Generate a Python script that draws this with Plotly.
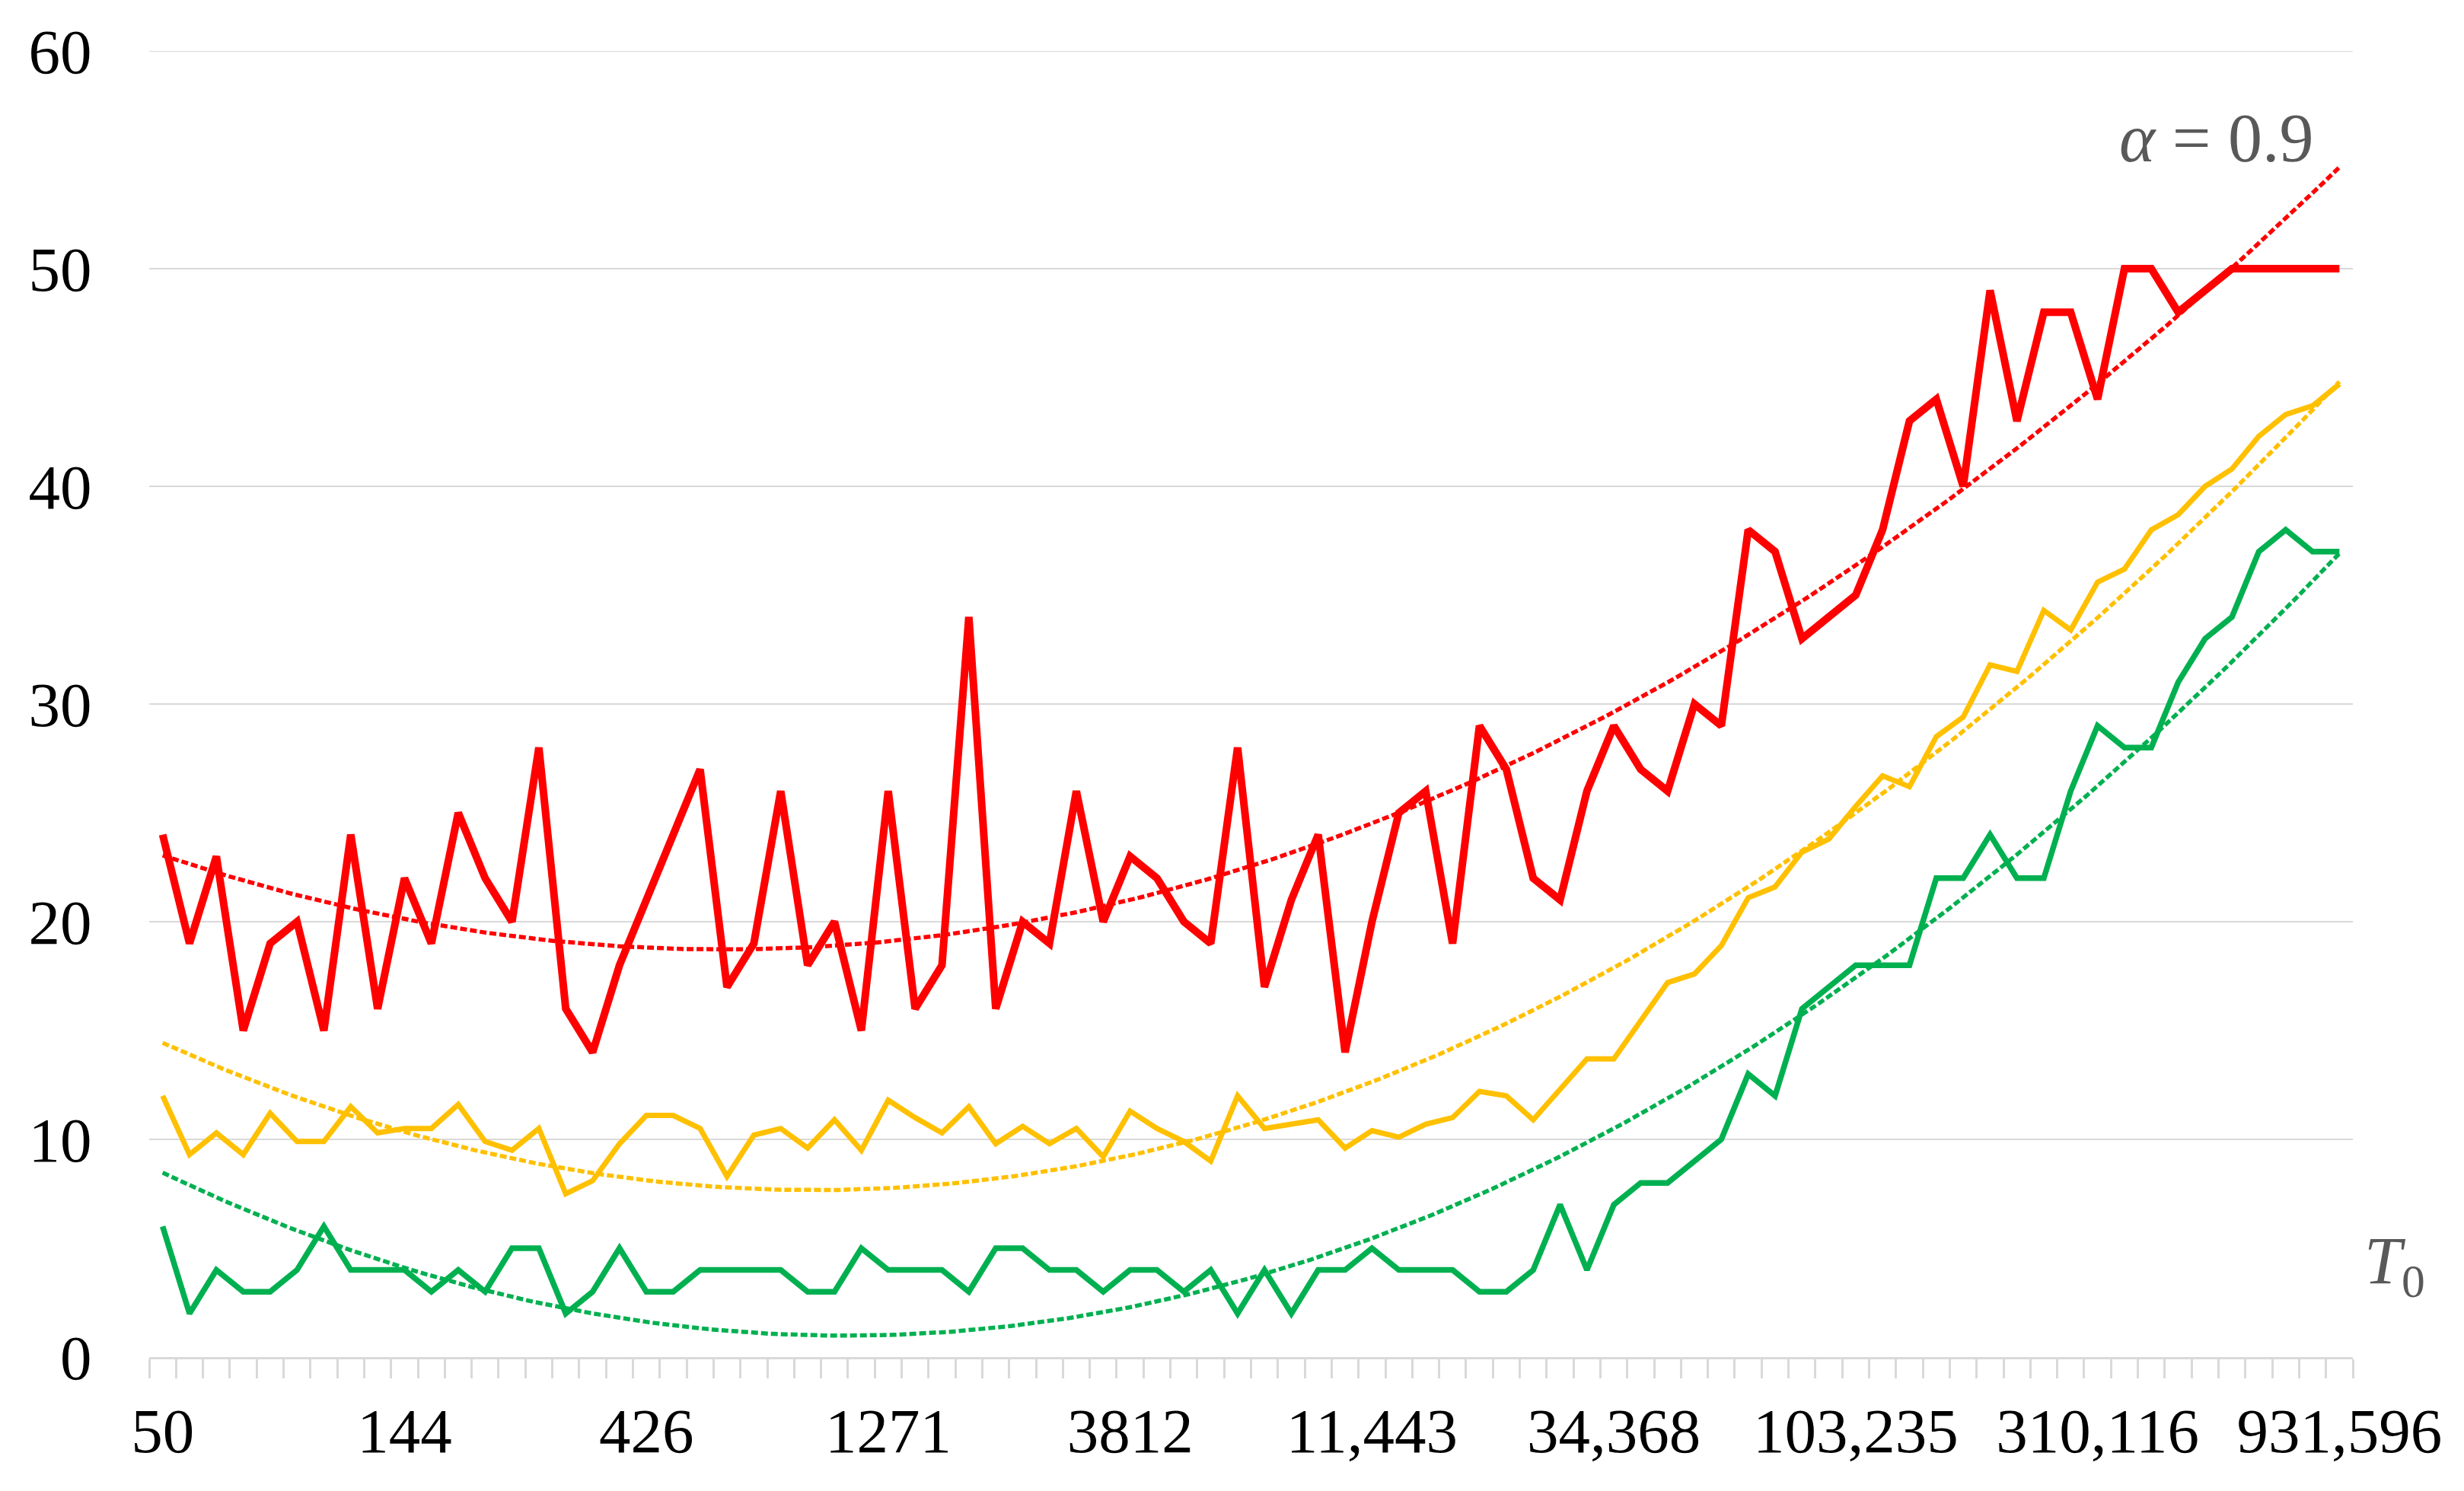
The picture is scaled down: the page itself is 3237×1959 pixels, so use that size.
import numpy as np
import plotly.graph_objects as go

# Category positions (82 T0 values, labels shown every 9th category)
tick_idx = [0, 9, 18, 27, 36, 45, 54, 63, 72, 81]
tick_labels = ["50", "144", "426", "1271", "3812", "11,443", "34,368", "103,235", "310,116", "931,596"]
n_cat = 82

red = [24, 19, 23, 15, 19, 20, 15, 24, 16, 22, 19, 25, 22, 20, 28, 16,
       14, 18, 21, 24, 27, 17, 19, 26, 18, 20, 15, 26, 16, 18,
       34, 16, 20, 19, 26, 20, 23, 22, 20, 19, 28, 17, 21, 24, 14,
       20, 25, 26, 19, 29, 27, 22, 21, 26, 29, 27, 26, 30, 29, 38,
       37, 33, 34, 35, 38, 43, 44, 40, 49, 43, 48, 48, 44, 50, 50, 48, 49, 50, 50, 50, 50, 50]

yellow = [12.0, 9.3, 10.3, 9.3, 11.2, 9.9, 9.9, 11.5, 10.3, 10.5, 10.5, 11.6, 9.9, 9.5, 10.5, 7.5,
          8.1, 9.8, 11.1, 11.1, 10.5, 8.3, 10.2, 10.5, 9.6, 10.9, 9.5, 11.8, 11.0, 10.3,
          11.5, 9.8, 10.6, 9.8, 10.5, 9.2, 11.3, 10.5, 9.9, 9.0, 12.0, 10.5, 10.7, 10.9, 9.6,
          10.4, 10.1, 10.7, 11.0, 12.2, 12.0, 10.9, 12.3, 13.7, 13.7, 15.4, 17.2, 17.6, 18.9, 21.1,
          21.6, 23.2, 23.8, 25.3, 26.7, 26.2, 28.5, 29.4, 31.8, 31.5, 34.3, 33.4, 35.6, 36.2, 38.0,
          38.7, 40.0, 40.8, 42.3, 43.3, 43.7, 44.7]

green = [6, 2, 4, 3, 3, 4, 6, 4, 4, 4, 3, 4, 3, 5, 5, 2,
         3, 5, 3, 3, 4, 4, 4, 4, 3, 3, 5, 4, 4, 4,
         3, 5, 5, 4, 4, 3, 4, 4, 3, 4, 2, 4, 2, 4, 4,
         5, 4, 4, 4, 3, 3, 4, 7, 4, 7, 8, 8, 9, 10, 13,
         12, 16, 17, 18, 18, 18, 22, 22, 24, 22, 22, 26, 29, 28, 28, 31, 33, 34, 37, 38, 37, 37]

y_ticks = [0, 10, 20, 30, 40, 50, 60]

series = [("red", red, "#FF0000", 10), ("yellow", yellow, "#FFC000", 7), ("green", green, "#00B050", 7.5)]

x = np.arange(n_cat)
xf = np.linspace(0, n_cat - 1, 400)

fig = go.Figure()
for name, vals, col, w in series:
    fig.add_trace(go.Scatter(x=x, y=vals, mode="lines", line=dict(color=col, width=w),
                             showlegend=False, hoverinfo="skip"))
for name, vals, col, w in series:
    coef = np.polyfit(x + 1, np.array(vals, dtype=float), 2)
    fig.add_trace(go.Scatter(x=xf, y=np.polyval(coef, xf + 1), mode="lines",
                             line=dict(color=col, width=5.5, dash="9px,4px"),
                             showlegend=False, hoverinfo="skip"))

# page is 3237x1959; the html body adds an 8px margin
OFF = 8
W, H = 3237 - 2 * OFF, 1959 - 2 * OFF
L, T = 196 - OFF, 67 - OFF
R = W - (3091 - OFF)
B = H - (1783 - OFF)
pw, ph = W - L - R, H - T - B

def px(xp):
    return (xp - OFF - L) / pw

def py(yp):
    return (H - B - (yp - OFF)) / ph

font_family = "Liberation Serif, Times New Roman, serif"

fig.update_layout(
    width=W, height=H,
    margin=dict(l=L, r=R, t=T, b=B, pad=0, autoexpand=False),
    paper_bgcolor="white", plot_bgcolor="white",
    font=dict(family=font_family, size=83, color="black"),
    xaxis=dict(
        range=[-0.5, n_cat - 0.5], automargin=False,
        tickmode="array", tickvals=tick_idx, ticktext=tick_labels,
        ticks="outside", ticklen=22, tickcolor="rgba(0,0,0,0)", tickwidth=1,
        showgrid=False, zeroline=False,
        showline=True, linecolor="#D9D9D9", linewidth=3,
        tickfont=dict(family=font_family, size=83, color="black"),
        minor=dict(tickvals=[k - 0.5 for k in range(n_cat + 1)], ticks="outside",
                   ticklen=25, tickcolor="#D9D9D9", tickwidth=3, showgrid=False),
    ),
    yaxis=dict(
        range=[0, 60], automargin=False,
        tickmode="array", tickvals=y_ticks,
        ticks="outside", ticklen=58, tickcolor="rgba(0,0,0,0)",
        showgrid=True, gridcolor="#D9D9D9", gridwidth=2,
        zeroline=False, showline=False,
        tickfont=dict(family=font_family, size=83, color="black"),
    ),
    shapes=[
        dict(type="line", xref="paper", yref="y", x0=0, x1=1, y0=y_ticks[-1], y1=y_ticks[-1],
             line=dict(color="#D9D9D9", width=2), layer="below"),
    ],
    annotations=[
        dict(text="<i>α</i> = 0.9", xref="paper", yref="paper", x=px(2912), y=py(181),
             xanchor="center", yanchor="middle", showarrow=False,
             font=dict(family=font_family, size=90, color="#595959")),
        dict(text="<i>T</i><sub>0</sub>", xref="paper", yref="paper", x=px(3146), y=py(1662),
             xanchor="center", yanchor="middle", showarrow=False,
             font=dict(family=font_family, size=88, color="#595959")),
    ],
)

fig.write_html("out.html")
